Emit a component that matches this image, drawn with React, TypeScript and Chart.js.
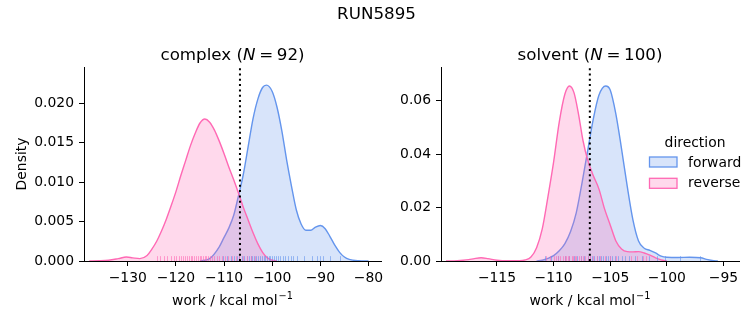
import React, { useEffect, useRef } from "react";
import { Chart, registerables } from "chart.js";

Chart.register(...registerables);

const W = 753;
const H = 325;
const FONT = "'DejaVu Sans', sans-serif";

const FIG_TITLE = "RUN5895";
const X_LABEL = "work / kcal mol";
const X_LABEL_SUP = "\u22121";
const Y_LABEL = "Density";
const LEGEND_TITLE = "direction";
const LEGEND_LABELS = ["forward", "reverse"];

// ---------- complex panel (N = 92) ----------
const complexN = 92;
const complexForwardX = [-115, -113, -111, -110, -109, -108, -107, -106, -105, -104, -103, -102, -101.2, -100, -99, -98, -97, -96, -95, -94, -93, -92, -91, -90, -89, -88, -87, -86, -85, -84, -82, -80];
const complexForwardY = [0, 0.0003, 0.0018, 0.003, 0.0042, 0.0058, 0.0083, 0.011, 0.0145, 0.018, 0.0205, 0.022, 0.0223, 0.0215, 0.0195, 0.0165, 0.0128, 0.0095, 0.0065, 0.0047, 0.0039, 0.0039, 0.0043, 0.0045, 0.0041, 0.0031, 0.002, 0.0011, 0.0005, 0.0002, 0.00003, 0];
const complexReverseX = [-138, -136, -134, -132, -130.3, -129, -127.5, -126, -125, -124, -123, -122, -121, -120, -119, -118, -117, -116, -115, -114, -113, -112, -111, -110, -109, -108, -107, -106, -105, -104, -103, -102, -101, -100, -99];
const complexReverseY = [0, 0.00003, 0.0001, 0.0003, 0.0005, 0.0004, 0.0003, 0.0007, 0.0015, 0.0025, 0.0038, 0.0053, 0.007, 0.0088, 0.0108, 0.0127, 0.0146, 0.0162, 0.0175, 0.018, 0.0176, 0.0166, 0.0152, 0.0136, 0.0119, 0.0103, 0.0086, 0.0068, 0.0052, 0.0036, 0.0022, 0.0011, 0.0004, 0.0001, 0];
const complexForwardRug = [-110.2, -109.3, -108.6, -107.9, -107.3, -106.8, -106.3, -105.8, -105.3, -104.9, -104.5, -104.1, -103.7, -103.3, -102.9, -102.5, -102.2, -101.8, -101.5, -101.1, -100.7, -100.4, -100.0, -99.6, -99.2, -98.8, -98.3, -97.8, -97.3, -96.7, -96.1, -95.6, -94.9, -93.4, -91.8, -90.6, -90.1, -89.4, -88.0, -85.9];
const complexReverseRug = [-124.0, -123.3, -122.5, -121.8, -121.0, -120.4, -119.9, -119.4, -118.9, -118.5, -118.1, -117.7, -117.3, -116.9, -116.6, -116.2, -115.8, -115.5, -115.1, -114.8, -114.4, -114.0, -113.7, -113.3, -112.9, -112.5, -112.0, -111.5, -111.0, -110.4, -109.8, -109.1, -108.3, -107.6, -106.9, -106.0, -105.2, -104.5, -103.6];
const complexMarker = -106.7;
const complexXTicks = [-130, -120, -110, -100, -90, -80];
const complexYTicks = [0, 0.005, 0.01, 0.015, 0.02];

// ---------- solvent panel (N = 100) ----------
const solventN = 100;
const solventForwardX = [-111.5, -111, -110.5, -110, -109.5, -109, -108.5, -108, -107.5, -107, -106.5, -106, -105.4, -105, -104.5, -104, -103.5, -103, -102.5, -102, -101.5, -101, -100.5, -100, -99, -98, -97, -96.5, -96, -95.5];
const solventForwardY = [0, 0.0003, 0.001, 0.002, 0.0038, 0.0065, 0.011, 0.018, 0.029, 0.041, 0.053, 0.062, 0.0655, 0.064, 0.055, 0.042, 0.028, 0.0155, 0.0075, 0.0048, 0.004, 0.003, 0.0018, 0.0014, 0.0013, 0.0014, 0.0012, 0.0006, 0.0002, 0];
const solventReverseX = [-119.5, -118.5, -117.5, -117, -116.4, -115.8, -115, -114, -113, -112.5, -112, -111.5, -111, -110.5, -110, -109.5, -109, -108.6, -108.2, -107.8, -107.4, -107, -106.5, -106, -105.5, -105, -104.5, -104, -103.5, -103, -102.5, -102, -101.5, -101, -100.5, -100];
const solventReverseY = [0, 0.0001, 0.0005, 0.0009, 0.0012, 0.0009, 0.0003, 0.0001, 0.0001, 0.0004, 0.0015, 0.005, 0.012, 0.024, 0.037, 0.052, 0.0625, 0.0655, 0.063, 0.055, 0.045, 0.038, 0.032, 0.027, 0.0195, 0.0135, 0.0075, 0.0045, 0.0035, 0.0034, 0.0035, 0.003, 0.0022, 0.0012, 0.0004, 0];
const solventForwardRug = [-110.8, -110.2, -109.6, -109.0, -108.6, -108.2, -107.9, -107.6, -107.3, -107.0, -106.8, -106.6, -106.4, -106.2, -106.0, -105.8, -105.6, -105.4, -105.2, -105.0, -104.8, -104.6, -104.3, -104.0, -103.7, -103.3, -102.8, -102.2, -101.6, -100.9, -100.2, -98.8, -97.1];
const solventReverseRug = [-110.7, -110.3, -110.0, -109.8, -109.6, -109.4, -109.2, -109.0, -108.9, -108.7, -108.6, -108.4, -108.3, -108.1, -108.0, -107.8, -107.6, -107.4, -107.2, -107.0, -106.8, -106.5, -106.2, -105.9, -105.5, -105.0, -104.5, -103.2, -102.6, -102.1, -101.8];
const solventMarker = -106.8;
const solventXTicks = [-115, -110, -105, -100, -95];
const solventYTicks = [0, 0.02, 0.04, 0.06];

// ---------- styles ----------
const BLUE = "rgb(100,149,237)";
const BLUE_FILL = "rgba(100,149,237,0.25)";
const BLUE_RUG = "rgba(100,149,237,0.6)";
const PINK = "rgb(255,105,180)";
const PINK_FILL = "rgba(255,105,180,0.25)";
const PINK_RUG = "rgba(255,105,180,0.6)";
const TICK_SIZE = 13.9;
const TITLE_SIZE = 16.7;

type Area = { left: number; right: number; top: number; bottom: number };
type Panel = {
  name: string;
  n: number;
  fX: number[]; fY: number[]; rX: number[]; rY: number[];
  fRug: number[]; rRug: number[];
  marker: number;
  xMin: number; xMax: number; yMax: number;
  xTicks: number[]; yTicks: number[]; yDec: number;
  area: Area;
  yLabel: boolean; legend: boolean; suptitle: boolean;
};

const fmtX = (v: number) => (v < 0 ? "\u2212" + Math.abs(v) : String(v));
const font = (size: number, italic = false) => `${italic ? "italic " : ""}${size}px ${FONT}`;

type Part = { t: string; italic?: boolean; gap?: number };

function drawParts(ctx: CanvasRenderingContext2D, parts: Part[], cx: number, baseline: number, size: number) {
  const widths = parts.map((p) => {
    ctx.font = font(size, p.italic);
    return ctx.measureText(p.t).width + (p.gap || 0) * size;
  });
  const total = widths.reduce((a, b) => a + b, 0);
  let x = cx - total / 2;
  ctx.textAlign = "left";
  ctx.textBaseline = "alphabetic";
  parts.forEach((p, i) => {
    ctx.font = font(size, p.italic);
    ctx.fillText(p.t, x + ((p.gap || 0) * size) / 2, baseline);
    x += widths[i];
  });
}

function makeConfig(p: Panel): any {
  const pts = (xs: number[], ys: number[]) => xs.map((x, i) => ({ x, y: ys[i] }));
  const extras = {
    id: "panelExtras",
    afterDatasetsDraw(chart: any) {
      const { ctx, chartArea } = chart;
      const xs = chart.scales.x;
      ctx.save();
      ctx.beginPath();
      ctx.rect(chartArea.left, chartArea.top, chartArea.right - chartArea.left, chartArea.bottom - chartArea.top);
      ctx.clip();
      const rugH = (chartArea.bottom - chartArea.top) * 0.025;
      const rug = (vals: number[], color: string) => {
        ctx.strokeStyle = color;
        ctx.lineWidth = 1;
        vals.forEach((v) => {
          const x = Math.round(xs.getPixelForValue(v)) + 0.5;
          ctx.beginPath();
          ctx.moveTo(x, chartArea.bottom);
          ctx.lineTo(x, chartArea.bottom - rugH);
          ctx.stroke();
        });
      };
      rug(p.fRug, BLUE_RUG);
      rug(p.rRug, PINK_RUG);
      const mx = xs.getPixelForValue(p.marker);
      ctx.strokeStyle = "#000";
      ctx.lineWidth = 2;
      ctx.setLineDash([2, 3.3]);
      ctx.beginPath();
      ctx.moveTo(mx, chartArea.bottom);
      ctx.lineTo(mx, chartArea.top);
      ctx.stroke();
      ctx.restore();
    },
    afterDraw(chart: any) {
      const { ctx, chartArea } = chart;
      const cx = (chartArea.left + chartArea.right) / 2;
      ctx.save();
      ctx.fillStyle = "#000";
      drawParts(
        ctx,
        [{ t: `${p.name} (` }, { t: "N", italic: true }, { t: "=", gap: 0.44 }, { t: `${p.n})` }],
        cx, 59.5, TITLE_SIZE
      );
      ctx.font = font(TICK_SIZE);
      const w1 = ctx.measureText(X_LABEL).width;
      ctx.font = font(TICK_SIZE * 0.7);
      const w2 = ctx.measureText(X_LABEL_SUP).width;
      const x0 = cx - (w1 + w2 + 1) / 2;
      ctx.textAlign = "left";
      ctx.textBaseline = "alphabetic";
      ctx.font = font(TICK_SIZE);
      ctx.fillText(X_LABEL, x0, 304.5);
      ctx.font = font(TICK_SIZE * 0.7);
      ctx.fillText(X_LABEL_SUP, x0 + w1 + 1, 299);
      if (p.yLabel) {
        ctx.save();
        ctx.translate(25.5, (chartArea.top + chartArea.bottom) / 2);
        ctx.rotate(-Math.PI / 2);
        ctx.font = font(TICK_SIZE);
        ctx.textAlign = "center";
        ctx.textBaseline = "alphabetic";
        ctx.fillText(Y_LABEL, 0, 0);
        ctx.restore();
      }
      if (p.suptitle) {
        ctx.font = font(TITLE_SIZE);
        ctx.textAlign = "center";
        ctx.textBaseline = "alphabetic";
        ctx.fillText(FIG_TITLE, W / 2, 18.5);
      }
      if (p.legend) {
        ctx.font = font(TICK_SIZE);
        ctx.textAlign = "center";
        ctx.textBaseline = "alphabetic";
        ctx.fillText(LEGEND_TITLE, 695, 146.5);
        const items = [
          { label: LEGEND_LABELS[0], fill: BLUE_FILL, line: BLUE, y: 157, base: 166.5 },
          { label: LEGEND_LABELS[1], fill: PINK_FILL, line: PINK, y: 178.3, base: 187 },
        ];
        items.forEach((it) => {
          ctx.fillStyle = it.fill;
          ctx.fillRect(649.5, it.y, 27.5, 10);
          ctx.strokeStyle = it.line;
          ctx.lineWidth = 1.3;
          ctx.strokeRect(649.5, it.y, 27.5, 10);
          ctx.fillStyle = "#000";
          ctx.textAlign = "left";
          ctx.fillText(it.label, 688, it.base);
        });
      }
      ctx.restore();
    },
  };

  const lineDs = (data: any[], color: string, fill: string) => ({
    type: "line",
    data,
    borderColor: color,
    backgroundColor: fill,
    borderWidth: 1.4,
    fill: "origin",
    pointRadius: 0,
    tension: 0.4,
    cubicInterpolationMode: "monotone",
  });

  return {
    type: "line",
    data: {
      datasets: [
        lineDs(pts(p.rX, p.rY), PINK, PINK_FILL),
        lineDs(pts(p.fX, p.fY), BLUE, BLUE_FILL),
      ],
    },
    options: {
      responsive: false,
      animation: false,
      events: [],
      layout: { padding: { left: 0, top: p.area.top, right: W - p.area.right, bottom: 0 } },
      plugins: { legend: { display: false }, tooltip: { enabled: false }, title: { display: false } },
      scales: {
        x: {
          type: "linear",
          min: p.xMin,
          max: p.xMax,
          afterBuildTicks: (s: any) => { s.ticks = p.xTicks.map((v) => ({ value: v })); },
          afterFit: (s: any) => { s.height = H - p.area.bottom; },
          ticks: {
            autoSkip: false, maxRotation: 0, minRotation: 0, padding: 4, color: "#000",
            font: { family: FONT, size: TICK_SIZE },
            callback: (v: any) => fmtX(Number(v)),
          },
          grid: { display: true, drawOnChartArea: false, drawTicks: true, tickLength: 5, color: "#000", lineWidth: 1 },
          border: { display: true, color: "#000", width: 1 },
        },
        y: {
          type: "linear",
          min: 0,
          max: p.yMax,
          afterBuildTicks: (s: any) => { s.ticks = p.yTicks.map((v) => ({ value: v })); },
          afterFit: (s: any) => { s.width = p.area.left; },
          ticks: {
            autoSkip: false, padding: 5, color: "#000",
            font: { family: FONT, size: TICK_SIZE },
            callback: (v: any) => Number(v).toFixed(p.yDec),
          },
          grid: { display: true, drawOnChartArea: false, drawTicks: true, tickLength: 5, color: "#000", lineWidth: 1 },
          border: { display: true, color: "#000", width: 1 },
        },
      },
    },
    plugins: [extras],
  };
}

const complexPanel: Panel = {
  name: "complex", n: complexN,
  fX: complexForwardX, fY: complexForwardY, rX: complexReverseX, rY: complexReverseY,
  fRug: complexForwardRug, rRug: complexReverseRug, marker: complexMarker,
  xMin: -139.1, xMax: -77.4, yMax: 0.0246,
  xTicks: complexXTicks, yTicks: complexYTicks, yDec: 3,
  area: { left: 84, right: 381, top: 67, bottom: 261 },
  yLabel: true, legend: false, suptitle: true,
};

const solventPanel: Panel = {
  name: "solvent", n: solventN,
  fX: solventForwardX, fY: solventForwardY, rX: solventReverseX, rY: solventReverseY,
  fRug: solventForwardRug, rRug: solventReverseRug, marker: solventMarker,
  xMin: -119.94, xMax: -93.63, yMax: 0.0726,
  xTicks: solventXTicks, yTicks: solventYTicks, yDec: 2,
  area: { left: 441, right: 739, top: 67, bottom: 261 },
  yLabel: false, legend: true, suptitle: false,
};

export default function App() {
  const leftRef = useRef<HTMLCanvasElement>(null);
  const rightRef = useRef<HTMLCanvasElement>(null);
  useEffect(() => {
    const c1 = new Chart(leftRef.current as HTMLCanvasElement, makeConfig(complexPanel));
    const c2 = new Chart(rightRef.current as HTMLCanvasElement, makeConfig(solventPanel));
    return () => { c1.destroy(); c2.destroy(); };
  }, []);
  const cs: React.CSSProperties = { position: "absolute", left: 0, top: 0, width: W, height: H, display: "block" };
  return (
    <div style={{ position: "fixed", left: 0, top: 0, width: W, height: H, background: "#fff" }}>
      <canvas ref={leftRef} width={W} height={H} style={cs} />
      <canvas ref={rightRef} width={W} height={H} style={cs} />
    </div>
  );
}
